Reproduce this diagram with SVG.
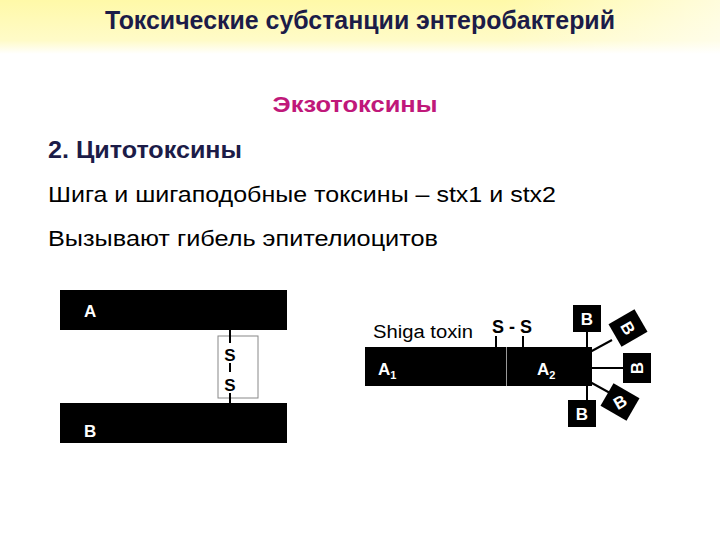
<svg xmlns="http://www.w3.org/2000/svg" width="720" height="540" viewBox="0 0 720 540">
<defs>
<linearGradient id="gv" x1="0" y1="0" x2="0" y2="1">
<stop offset="0" stop-color="#fff9a8"/><stop offset="0.75" stop-color="#fffbc8"/><stop offset="1" stop-color="#ffffff"/>
</linearGradient>
<linearGradient id="gh" x1="0" y1="0" x2="1" y2="0">
<stop offset="0.7" stop-color="#fff" stop-opacity="0"/><stop offset="1" stop-color="#fff" stop-opacity="0.6"/>
</linearGradient>
<style>
text{font-family:"Liberation Sans",Arial,sans-serif}
.blk{fill:#000}
.w{fill:#fff;font-weight:bold;font-size:17px}
.ln{stroke:#000;stroke-width:2}
.b{font-size:22px;fill:#000}
</style>
</defs>
<rect width="720" height="540" fill="#fff"/>
<rect width="720" height="54" fill="url(#gv)"/>
<rect width="720" height="54" fill="url(#gh)"/>
<text x="360" y="29" text-anchor="middle" font-size="25" font-weight="bold" fill="#1c1c48" textLength="510" lengthAdjust="spacingAndGlyphs">Токсические субстанции энтеробактерий</text>
<text x="355" y="112" text-anchor="middle" font-size="22" font-weight="bold" fill="#c0187a" textLength="165" lengthAdjust="spacingAndGlyphs">Экзотоксины</text>
<text x="48" y="158" font-size="23" font-weight="bold" fill="#1c1c48" textLength="194" lengthAdjust="spacingAndGlyphs">2. Цитотоксины</text>
<text x="48" y="202" class="b" textLength="508" lengthAdjust="spacingAndGlyphs">Шига и шигаподобные токсины – stx1 и stx2</text>
<text x="48" y="246" class="b" textLength="390" lengthAdjust="spacingAndGlyphs">Вызывают гибель эпителиоцитов</text>

<g id="left">
<rect x="60" y="290" width="227" height="40" class="blk"/>
<text x="84" y="317" class="w">A</text>
<rect x="218" y="336" width="40" height="62" fill="none" stroke="#888" stroke-width="1"/>
<line x1="230" y1="330" x2="230" y2="343" class="ln"/>
<line x1="230" y1="363" x2="230" y2="372" class="ln"/>
<line x1="230" y1="393" x2="230" y2="403" class="ln"/>
<text x="230" y="361" text-anchor="middle" font-size="17" font-weight="bold">S</text>
<text x="230" y="391" text-anchor="middle" font-size="17" font-weight="bold">S</text>
<rect x="60" y="403" width="227" height="40" class="blk"/>
<text x="84" y="437" class="w">B</text>
</g>

<g id="connectors">
<line x1="496" y1="336" x2="496" y2="347" class="ln"/>
<line x1="523" y1="336" x2="523" y2="347" class="ln"/>
<line x1="587" y1="330" x2="587" y2="350" class="ln"/>
<line x1="590" y1="352" x2="612" y2="340" class="ln"/>
<line x1="590" y1="368" x2="625" y2="368" class="ln"/>
<line x1="590" y1="382" x2="610" y2="393" class="ln"/>
<line x1="587" y1="384" x2="587" y2="400" class="ln"/>
</g>

<g id="toxin">
<text x="373" y="338" font-size="18" fill="#000" textLength="100" lengthAdjust="spacingAndGlyphs">Shiga  toxin</text>
<text x="492" y="333" font-size="18" font-weight="bold" textLength="40" lengthAdjust="spacingAndGlyphs">S - S</text>
<rect x="365" y="347" width="141" height="39" class="blk"/>
<rect x="507" y="347" width="85" height="39" class="blk"/>
<line x1="506.5" y1="347" x2="506.5" y2="386" stroke="#999" stroke-width="1"/>
<text x="378" y="375" class="w">A<tspan font-size="11" dy="4">1</tspan></text>
<text x="537" y="375" class="w">A<tspan font-size="11" dy="4">2</tspan></text>
</g>
<g id="B1"><rect x="573" y="305" width="28" height="27" class="blk"/><text x="587" y="325" text-anchor="middle" class="w">B</text></g>
<g id="B2" transform="translate(628,328) rotate(-30)"><rect x="-15" y="-13" width="30" height="26" class="blk"/><text x="0" y="6" text-anchor="middle" class="w" transform="rotate(90)">B</text></g>
<g id="B3" transform="translate(637,368)"><rect x="-14" y="-15" width="28" height="30" class="blk"/><text x="0" y="6" text-anchor="middle" class="w" transform="rotate(-90)">B</text></g>
<g id="B4" transform="translate(620,402) rotate(30)"><rect x="-15" y="-13" width="30" height="26" class="blk"/><text x="0" y="6" text-anchor="middle" class="w" transform="rotate(-60)">B</text></g>
<g id="B5"><rect x="568" y="400" width="28" height="27" class="blk"/><text x="582" y="420" text-anchor="middle" class="w">B</text></g>
</svg>
